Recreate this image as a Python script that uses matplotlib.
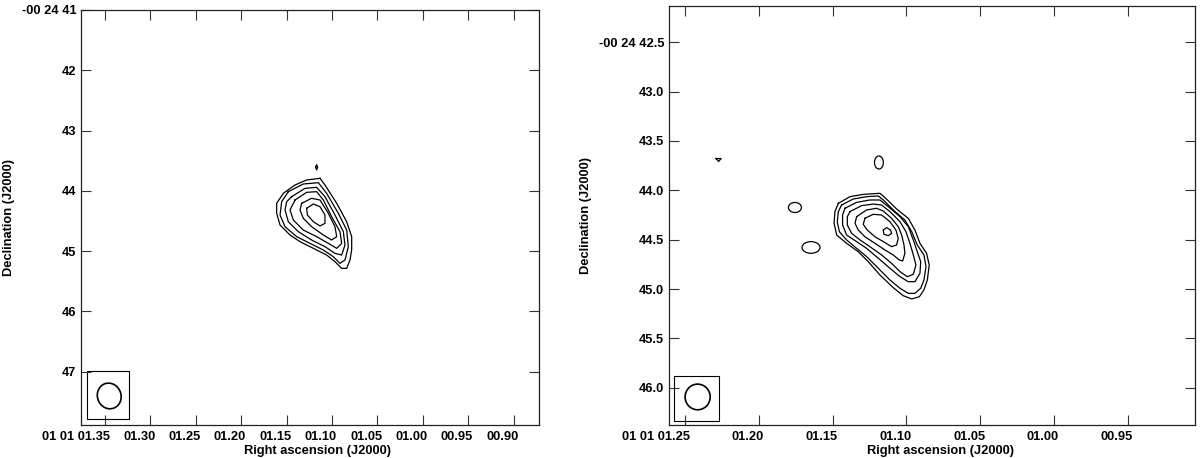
import numpy as np
import matplotlib.pyplot as plt
from matplotlib.patches import Ellipse, Rectangle
from matplotlib.transforms import Affine2D, ScaledTranslation

plt.rcParams['font.family'] = ['Liberation Sans', 'DejaVu Sans']
plt.rcParams['font.weight'] = 'bold'
plt.rcParams['font.size'] = 9.3

# ---- left image: RA seconds (01 01 xx.xx), Dec arcsec (-00 24 xx) ----
left_ra_ticks = [1.35, 1.30, 1.25, 1.20, 1.15, 1.10, 1.05, 1.00, 0.95, 0.90]
left_ra_labels = ["01 01 01.35", "01.30", "01.25", "01.20", "01.15", "01.10",
                  "01.05", "01.00", "00.95", "00.90"]
left_dec_ticks = [41, 42, 43, 44, 45, 46, 47]
left_dec_labels = ["-00 24 41", "42", "43", "44", "45", "46", "47"]

left_c1_ra = [1.1132, 1.1077, 1.0948, 1.0838, 1.0783, 1.0783, 1.0802, 1.0838, 1.0893, 1.0967,
              1.1059, 1.1205, 1.1352, 1.1462, 1.1572, 1.1609, 1.1609, 1.1536, 1.1407, 1.1279]
left_c1_dec = [43.792, 43.902, 44.206, 44.511, 44.759, 44.981, 45.147, 45.285, 45.285, 45.174,
               45.064, 44.953, 44.842, 44.732, 44.566, 44.372, 44.206, 44.040, 43.902, 43.819]
left_c2_ra = [1.1481, 1.1316, 1.1150, 1.1059, 1.0930, 1.0838, 1.0820, 1.0857, 1.0912, 1.0985,
              1.1095, 1.1242, 1.1389, 1.1517, 1.1572, 1.1554]
left_c2_dec = [44.013, 43.886, 43.864, 44.040, 44.372, 44.649, 44.925, 45.147, 45.202, 45.091,
               44.981, 44.870, 44.759, 44.594, 44.400, 44.179]
left_c3_ra = [1.1444, 1.1297, 1.1169, 1.1077, 1.0967, 1.0875, 1.0857, 1.0893, 1.0967, 1.1077,
              1.1224, 1.1371, 1.1481, 1.1517, 1.1499]
left_c3_dec = [44.096, 43.958, 43.941, 44.096, 44.400, 44.676, 44.898, 45.064, 45.036, 44.925,
               44.815, 44.676, 44.511, 44.317, 44.179]
left_c4_ra = [1.1407, 1.1279, 1.1169, 1.1095, 1.1004, 1.0912, 1.0893, 1.0948, 1.1040, 1.1169,
              1.1316, 1.1426, 1.1462]
left_c4_dec = [44.151, 44.024, 44.013, 44.151, 44.428, 44.676, 44.870, 44.953, 44.870, 44.759,
               44.649, 44.483, 44.317]
left_c5_ra = [1.1334, 1.1224, 1.1132, 1.1040, 1.0967, 1.0948, 1.1004, 1.1095, 1.1224, 1.1316, 1.1352]
left_c5_dec = [44.206, 44.123, 44.151, 44.372, 44.594, 44.759, 44.815, 44.732, 44.594, 44.455, 44.317]
left_c6_ra = [1.1279, 1.1205, 1.1132, 1.1077, 1.1077, 1.1132, 1.1205, 1.1271]
left_c6_dec = [44.289, 44.217, 44.262, 44.400, 44.538, 44.582, 44.511, 44.400]
left_spot_ra = [1.1180, 1.1169, 1.1158, 1.1169]
left_spot_dec = [43.609, 43.565, 43.609, 43.653]

left_beam = dict(ra=1.3453, dec=47.401, bmaj=0.43, bmin=0.39, pa=20)
left_box_ra = [1.3695, 1.3232]
left_box_dec = [46.992, 47.788]

# ---- right image ----
right_ra_ticks = [1.25, 1.20, 1.15, 1.10, 1.05, 1.00, 0.95]
right_ra_labels = ["01 01 01.25", "01.20", "01.15", "01.10", "01.05", "01.00", "00.95"]
right_dec_ticks = [42.5, 43.0, 43.5, 44.0, 44.5, 45.0, 45.5, 46.0]
right_dec_labels = ["-00 24 42.5", "43.0", "43.5", "44.0", "44.5", "45.0", "45.5", "46.0"]

right_c1_ra = [1.1461, 1.1382, 1.1292, 1.1179, 1.1145, 1.1066, 1.0987, 1.0942, 1.0908, 1.0863,
               1.0845, 1.0858, 1.0881, 1.0912, 1.0964, 1.1021, 1.1089, 1.1179, 1.1258, 1.1326,
               1.1405, 1.1472, 1.1490, 1.1484]
right_c1_dec = [44.132, 44.064, 44.041, 44.030, 44.074, 44.189, 44.284, 44.402, 44.537, 44.638,
                44.757, 44.909, 45.010, 45.078, 45.101, 45.068, 44.986, 44.858, 44.723, 44.622,
                44.537, 44.453, 44.334, 44.216]
right_c2_ra = [1.1439, 1.1360, 1.1269, 1.1190, 1.1156, 1.1077, 1.1010, 1.0964, 1.0926, 1.0881,
               1.0867, 1.0881, 1.0903, 1.0942, 1.0987, 1.1043, 1.1111, 1.1190, 1.1269, 1.1337,
               1.1405, 1.1454, 1.1468, 1.1461]
right_c2_dec = [44.149, 44.088, 44.064, 44.057, 44.098, 44.216, 44.301, 44.419, 44.554, 44.655,
                44.774, 44.909, 44.993, 45.044, 45.044, 44.993, 44.909, 44.790, 44.672, 44.588,
                44.503, 44.419, 44.318, 44.216]
right_c3_ra = [1.1416, 1.1337, 1.1247, 1.1179, 1.1122, 1.1043, 1.0987, 1.0953, 1.0926, 1.0903,
               1.0908, 1.0942, 1.0987, 1.1043, 1.1111, 1.1190, 1.1269, 1.1337, 1.1405, 1.1432, 1.1432]
right_c3_dec = [44.182, 44.122, 44.098, 44.098, 44.166, 44.267, 44.368, 44.503, 44.622, 44.723,
                44.841, 44.926, 44.926, 44.875, 44.790, 44.689, 44.588, 44.520, 44.453, 44.351, 44.250]
right_c4_ra = [1.1382, 1.1303, 1.1224, 1.1168, 1.1111, 1.1043, 1.1003, 1.0976, 1.0953, 1.0935,
               1.0953, 1.0994, 1.1043, 1.1100, 1.1168, 1.1247, 1.1314, 1.1371, 1.1400, 1.1400]
right_c4_dec = [44.216, 44.155, 44.139, 44.149, 44.216, 44.318, 44.419, 44.537, 44.655, 44.757,
                44.851, 44.875, 44.824, 44.740, 44.655, 44.571, 44.503, 44.436, 44.351, 44.267]
right_c5_ra = [1.1337, 1.1269, 1.1202, 1.1156, 1.1100, 1.1055, 1.1032, 1.1016, 1.1010, 1.1025,
               1.1048, 1.1089, 1.1145, 1.1213, 1.1281, 1.1326, 1.1348]
right_c5_dec = [44.267, 44.199, 44.182, 44.210, 44.284, 44.368, 44.453, 44.554, 44.638, 44.716,
                44.706, 44.655, 44.605, 44.537, 44.470, 44.402, 44.334]
right_c6_ra = [1.1281, 1.1224, 1.1168, 1.1111, 1.1071, 1.1055, 1.1066, 1.1100, 1.1156, 1.1213,
               1.1265, 1.1292]
right_c6_dec = [44.284, 44.243, 44.250, 44.318, 44.402, 44.487, 44.554, 44.571, 44.520, 44.470,
                44.402, 44.345]
right_c7_ra = [1.1156, 1.1134, 1.1107, 1.1100, 1.1122, 1.1152]
right_c7_dec = [44.402, 44.378, 44.402, 44.436, 44.459, 44.446]

# small isolated islands: centre RA, centre Dec, half-width (s), half-height (arcsec)
blob_ra = [1.1755, 1.1646, 1.1186]
blob_dec = [44.174, 44.579, 43.718]
blob_hw = [0.0044, 0.0061, 0.0030]
blob_hh = [0.051, 0.059, 0.066]
tri_ra = [1.2289, 1.2255, 1.2272]
tri_dec = [43.678, 43.678, 43.708]

right_beam = dict(ra=1.2414, dec=46.094, bmaj=0.26, bmin=0.255, pa=0)
right_box_ra = [1.2572, 1.2270]
right_box_dec = [45.881, 46.334]


def draw_contour(ax, ra, dec):
    ax.plot(list(ra) + [ra[0]], list(dec) + [dec[0]], color='black', lw=0.9)


def draw_beam(ax, beam, box_ra, box_dec):
    ax.add_patch(Rectangle((box_ra[0], box_dec[0]), box_ra[1] - box_ra[0], box_dec[1] - box_dec[0],
                           fill=False, edgecolor='black', lw=0.8))
    tr = Affine2D().scale(1 / 15.0, 1).translate(beam['ra'], beam['dec']) + ax.transData
    ax.add_patch(Ellipse((0, 0), beam['bmin'], beam['bmaj'], angle=beam['pa'],
                         fill=False, edgecolor='black', lw=1.2, transform=tr))


def style_axes(ax, xt, xl, yt, yl, label_x):
    ax.set_xticks(xt)
    ax.set_xticklabels(xl)
    ax.set_yticks(yt)
    ax.set_yticklabels(yl)
    ax.tick_params(direction='in', length=7.5, width=0.8, top=True, right=True,
                   labeltop=False, labelright=False, color='#333333')
    ax.tick_params(axis='x', pad=4)
    ax.tick_params(axis='y', pad=3.5)
    # labels sit right-aligned just past their tick, as in the original
    shift = ScaledTranslation(5 / 100, 0, ax.figure.dpi_scale_trans)
    for lbl in ax.get_xticklabels():
        lbl.set_horizontalalignment('right')
        lbl.set_transform(lbl.get_transform() + shift)
    for s in ax.spines.values():
        s.set_linewidth(0.9)
        s.set_color('#222222')
    ax.set_xlabel("Right ascension (J2000)", fontweight='bold', labelpad=2)
    ax.xaxis.label.set_x(label_x)
    ax.set_ylabel("Declination (J2000)", fontweight='bold', labelpad=5)


fig = plt.figure(figsize=(12, 4.58), dpi=100)
ax1 = fig.add_axes([0.0675, 0.0721, 0.3819, 0.9061])
ax2 = fig.add_axes([0.5575, 0.0721, 0.4383, 0.9148])

for ra, dec in [(left_c1_ra, left_c1_dec), (left_c2_ra, left_c2_dec), (left_c3_ra, left_c3_dec),
                (left_c4_ra, left_c4_dec), (left_c5_ra, left_c5_dec), (left_c6_ra, left_c6_dec),
                (left_spot_ra, left_spot_dec)]:
    draw_contour(ax1, ra, dec)
draw_beam(ax1, left_beam, left_box_ra, left_box_dec)
ax1.set_xlim(1.3764, 0.8717)
ax1.set_ylim(47.882, 41.0)
style_axes(ax1, left_ra_ticks, left_ra_labels, left_dec_ticks, left_dec_labels, 0.517)

for ra, dec in [(right_c1_ra, right_c1_dec), (right_c2_ra, right_c2_dec), (right_c3_ra, right_c3_dec),
                (right_c4_ra, right_c4_dec), (right_c5_ra, right_c5_dec), (right_c6_ra, right_c6_dec),
                (right_c7_ra, right_c7_dec), (tri_ra, tri_dec)]:
    draw_contour(ax2, ra, dec)
for r, d, hw, hh in zip(blob_ra, blob_dec, blob_hw, blob_hh):
    ax2.add_patch(Ellipse((r, d), 2 * hw, 2 * hh, fill=False, edgecolor='black', lw=0.9))
draw_beam(ax2, right_beam, right_box_ra, right_box_dec)
ax2.set_xlim(1.2608, 0.9045)
ax2.set_ylim(46.378, 42.132)
style_axes(ax2, right_ra_ticks, right_ra_labels, right_dec_ticks, right_dec_labels, 0.517)

fig.savefig("out.png", dpi=100)
